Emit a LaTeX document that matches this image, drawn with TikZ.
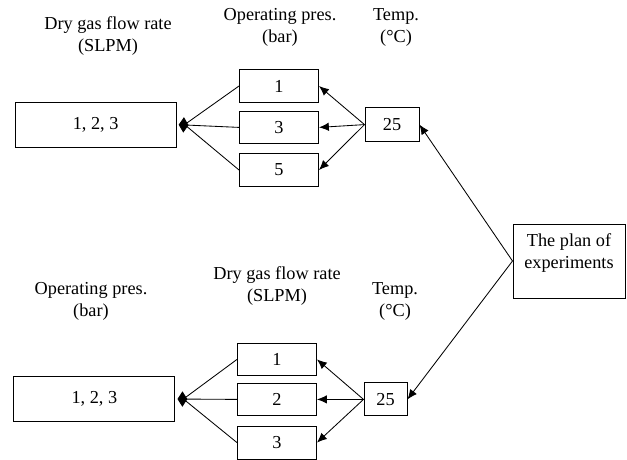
\documentclass[tikz,border=0pt]{standalone}
\usepackage{fontspec}
\setmainfont{Liberation Serif}
\usepackage{tikz}
\usetikzlibrary{positioning,arrows.meta,calc}
\tikzset{
    bigblock/.style = {
        draw,
        shape=rectangle,
        minimum height=1.13cm,
        minimum width=4.025cm,
        line width=0.7pt
    },
    block/.style = {
        draw,
        shape=rectangle,
        minimum height=0.82cm,
        minimum width=1.975cm,
        line width=0.7pt
    },
    tempbox/.style = {
        draw,
        shape=rectangle,
        inner sep=0pt,
        line width=0.7pt
    },
    planbox/.style = {
        draw,
        shape=rectangle,
        align=center,
        minimum height=1.85cm,
        minimum width=2.8cm,
        text depth=14pt,
        line width=0.7pt
    },
    empty/.style = {
        shape=rectangle,
        align=center,
        inner sep=0pt
    },
    link/.style = {
        line width=0.6pt
    },
    joint/.style = {
        -{Diamond[length=7pt,width=11pt]},
        shorten >=1.5pt
    },
    >={Latex[length=7pt,width=6pt]},
}

\begin{document}
\begin{tikzpicture}[every node/.style={font=\fontsize{13pt}{15.6pt}\selectfont}]
            \useasboundingbox (0,0) rectangle (15.675,11.475);

            % upper plan
            \node[empty] (flowlabA) at (2.70,  10.58) {Dry gas flow rate\\(SLPM)};
            \node[empty] (preslabA) at (7.00,  10.79) {Operating pres.\\(bar)};
            \node[empty] (templabA) at (9.90,  10.79) {Temp.\\(\textdegree C)};

            \node[bigblock] (flowA) at (2.39,  8.36)  {1, 2, 3};
            \node[block]    (presA) at (6.975, 9.325) {1};
            \node[block]    (presB) at (6.975, 8.29)  {3};
            \node[block]    (presC) at (6.975, 7.225) {5};
            \node[tempbox, minimum width=1.35cm, minimum height=0.85cm] (tempA) at (9.80, 8.36) {25};

            % plan node
            \node[planbox] (plan) at (14.225, 4.95) {The plan of\\experiments};

            % lower plan
            \node[empty] (preslabB) at (2.275, 3.94) {Operating pres.\\(bar)};
            \node[empty] (flowlabB) at (6.925, 4.33) {Dry gas flow rate\\(SLPM)};
            \node[empty] (templabB) at (9.875, 3.94) {Temp.\\(\textdegree C)};

            \node[bigblock] (presD) at (2.36,  1.50)  {1, 2, 3};
            \node[block]    (flowB) at (6.925, 2.49)  {1};
            \node[block]    (flowC) at (6.925, 1.49)  {2};
            \node[block]    (flowD) at (6.925, 0.41)  {3};
            \node[tempbox, minimum width=1.075cm, minimum height=0.825cm] (tempB) at (9.6375, 1.49) {25};

            \coordinate (jointA) at ($(flowA.east)+(0.2,0)$);
            \coordinate (jointB) at ($(presD.east)+(0.2,0)$);

            \path[draw, link, ->] (plan.west) -- (tempA.east);
            \path[draw, link, ->] (plan.west) -- (tempB.east);

            \path[draw, link, ->] (tempA.west) -- (presA.east);
            \path[draw, link, ->] (tempA.west) -- (presB.east);
            \path[draw, link, ->] (tempA.west) -- (presC.east);

            \path[draw, link, ->] (tempB.west) -- (flowB.east);
            \path[draw, link, ->] (tempB.west) -- (flowC.east);
            \path[draw, link, ->] (tempB.west) -- (flowD.east);

            \path[draw, link] (presA.west) -- (jointA);
            \path[draw, link, joint] (presB.west) -- (flowA.east);
            \path[draw, link] (presC.west) -- (jointA);

            \path[draw, link] (flowB.west) -- (jointB);
            \path[draw, link, joint] (flowC.west) -- (presD.east);
            \path[draw, link] (flowD.west) -- (jointB);
        \end{tikzpicture}
\end{document}
